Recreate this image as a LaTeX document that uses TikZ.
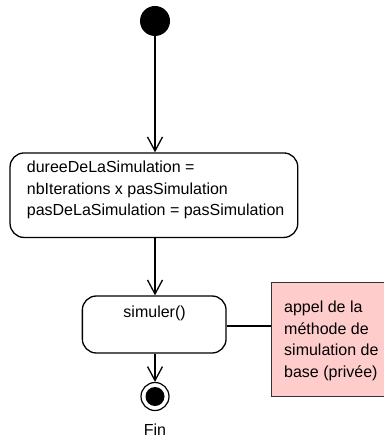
\documentclass[tikz,border=0pt]{standalone}
\usepackage{fontspec}
\setmainfont{Liberation Sans}
\usetikzlibrary{arrows.meta}
\definecolor{notefill}{HTML}{FFCCCC}
\definecolor{noteline}{HTML}{333333}
\begin{document}
\begin{tikzpicture}[x=1pt,y=-1pt,
  every node/.style={font=\fontsize{16}{21.5}\selectfont, inner sep=0pt},
  statebox/.style={draw, line width=1.3pt, rounded corners=14pt, fill=white},
  flow/.style={line width=1.5pt, -{Straight Barb[length=14pt,width=15pt,line width=1.3pt]}},
  txt/.style={anchor=base west},
]
\useasboundingbox (0,0) rectangle (383,438);
\fill[white] (0,0) rectangle (383,438);

% initial state
\node[circle, fill=black, minimum size=30pt] (init) at (155,21) {};

% box 1
\node[statebox, minimum width=287.7pt, minimum height=84.5pt] (b1) at (153.9,195.2) {};
\node[txt] (t1) at (26.7,172.5) {dureeDeLaSimulation =};
\node[txt] (t2) at (26.7,194) {nbIterations x pasSimulation};
\node[txt] (t3) at (26.7,215.5) {pasDeLaSimulation = pasSimulation};

% box 2
\node[statebox, minimum width=143.7pt, minimum height=57pt] (b2) at (154.2,324.5) {};
\node[anchor=base] (t4) at (154.6,317.5) {simuler()};

% note
\node[draw=noteline, fill=notefill, line width=1pt, minimum width=113pt, minimum height=114pt] (note) at (327.5,339.7) {};
\node[txt] (n1) at (284,312.5) {appel de la};
\node[txt] (n2) at (284,334) {méthode de};
\node[txt] (n3) at (284,355.5) {simulation de};
\node[txt] (n4) at (284,377) {base (privée)};

% final state
\node[circle, draw, line width=1.2pt, minimum size=28pt] (final) at (155,396.5) {};
\node[circle, fill=black, minimum size=19pt] (finalin) at (155,396.5) {};
\node[anchor=base] (fin) at (155,435) {Fin};

% connectors
\draw[flow] (init.south) -- (init.south |- b1.north);
\draw[flow] (init.south |- b1.south) -- (init.south |- b2.north);
\draw[flow] (init.south |- b2.south) -- (final.north);
\draw[line width=1.5pt] (b2.east |- 0,326) -- (note.west |- 0,326);
\end{tikzpicture}
\end{document}
